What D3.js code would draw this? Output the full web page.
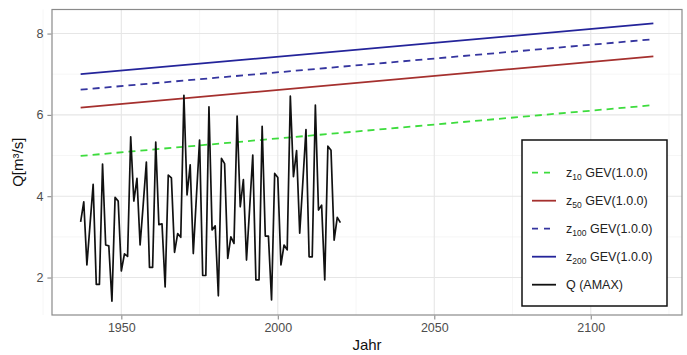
<!DOCTYPE html>
<html>
<head>
<meta charset="utf-8">
<script src="https://cdn.jsdelivr.net/npm/d3@7"></script>
<style>
  body { margin: 0; background: #fff; }
  text { font-family: "Liberation Sans", Arial, sans-serif; }
</style>
</head>
<body>
<div id="chart"></div>
<script>
// annual maxima, 1937 - 2020
var qYears = d3.range(1937, 2021);
var qAmax = [
  3.37, 3.86, 2.31, 3.3, 4.29, 1.83, 1.83, 4.79, 2.8, 2.78,
  1.42, 3.97, 3.88, 2.16, 2.58, 2.52, 5.46, 3.88, 4.44, 2.8,
  3.8, 4.84, 2.25, 2.25, 5.33, 3.3, 3.32, 1.77, 4.52, 4.45,
  2.62, 3.08, 2.99, 6.48, 4.03, 4.77, 2.59, 4.0, 5.38, 2.05,
  2.05, 6.2, 3.17, 3.27, 1.55, 4.93, 4.8, 2.47, 3.0, 2.84,
  5.97, 3.74, 4.41, 2.43, 3.7, 5.01, 1.94, 1.94, 5.72, 3.02,
  3.02, 1.45, 4.56, 4.46, 2.31, 2.8, 2.68, 6.46, 4.48, 5.12,
  3.09, 4.35, 5.64, 2.51, 2.51, 6.24, 3.66, 3.78, 1.94, 5.23,
  5.13, 2.92, 3.48, 3.35
];

// return levels (non-stationary GEV), start and end of period
var zYears = [1937, 2120];
var z10 = [4.99, 6.24];
var z50 = [6.18, 7.44];
var z100 = [6.62, 7.86];
var z200 = [7.0, 8.25];

var xTicks = [1950, 2000, 2050, 2100];
var yTicks = [2, 4, 6, 8];

var width = 687, height = 355;
var panel = { left: 52, right: 682, top: 9.5, bottom: 315 };

var series = [
  { sub: "10", label: " GEV(1.0.0)", values: z10, color: "#3ddc3d", dash: "7,5" },
  { sub: "50", label: " GEV(1.0.0)", values: z50, color: "#a5302e", dash: null },
  { sub: "100", label: " GEV(1.0.0)", values: z100, color: "#35359f", dash: "7,5" },
  { sub: "200", label: " GEV(1.0.0)", values: z200, color: "#24249a", dash: null }
];

var allY = qAmax.concat(z10, z50, z100, z200);
var xExt = [1937, 2120], yExt = d3.extent(allY);
var xPad = (xExt[1] - xExt[0]) * 0.05, yPad = (yExt[1] - yExt[0]) * 0.05;

var xScale = d3.scaleLinear()
  .domain([xExt[0] - xPad, xExt[1] + xPad])
  .range([panel.left, panel.right]);
var yScale = d3.scaleLinear()
  .domain([yExt[0] - yPad, yExt[1] + yPad])
  .range([panel.bottom, panel.top]);

var svg = d3.select("#chart").append("svg")
  .attr("width", width)
  .attr("height", height);

svg.append("rect").attr("width", width).attr("height", height).attr("fill", "#fff");

var innerW = panel.right - panel.left, innerH = panel.bottom - panel.top;

// grid lines, minor then major
var grid = svg.append("g").attr("class", "grid");
var xMinor = [1925, 1975, 2025, 2075, 2125];
var yMinor = [3, 5, 7];

grid.selectAll(".xminor").data(xMinor).enter().append("line")
  .attr("x1", d => xScale(d)).attr("x2", d => xScale(d))
  .attr("y1", panel.top).attr("y2", panel.bottom)
  .attr("stroke", "#f0f0f0").attr("stroke-width", 0.6);
grid.selectAll(".yminor").data(yMinor).enter().append("line")
  .attr("x1", panel.left).attr("x2", panel.right)
  .attr("y1", d => yScale(d)).attr("y2", d => yScale(d))
  .attr("stroke", "#f0f0f0").attr("stroke-width", 0.6);
grid.selectAll(".xmajor").data(xTicks).enter().append("line")
  .attr("x1", d => xScale(d)).attr("x2", d => xScale(d))
  .attr("y1", panel.top).attr("y2", panel.bottom)
  .attr("stroke", "#e6e6e6").attr("stroke-width", 1.1);
grid.selectAll(".ymajor").data(yTicks).enter().append("line")
  .attr("x1", panel.left).attr("x2", panel.right)
  .attr("y1", d => yScale(d)).attr("y2", d => yScale(d))
  .attr("stroke", "#e6e6e6").attr("stroke-width", 1.1);

// return level lines
var line = d3.line().x(d => xScale(d[0])).y(d => yScale(d[1]));

series.forEach(function (s) {
  svg.append("path")
    .datum(zYears.map((yr, i) => [yr, s.values[i]]))
    .attr("fill", "none")
    .attr("stroke", s.color)
    .attr("stroke-width", 1.8)
    .attr("stroke-dasharray", s.dash)
    .attr("d", line);
});

// observed annual maxima
svg.append("path")
  .datum(qYears.map((yr, i) => [yr, qAmax[i]]))
  .attr("fill", "none")
  .attr("stroke", "#111")
  .attr("stroke-width", 1.7)
  .attr("stroke-linejoin", "round")
  .attr("d", line);

// panel border
svg.append("rect")
  .attr("x", panel.left).attr("y", panel.top)
  .attr("width", innerW).attr("height", innerH)
  .attr("fill", "none").attr("stroke", "#8a8a8a").attr("stroke-width", 1.2);

// axes
var xAxis = d3.axisBottom(xScale).tickValues(xTicks).tickSize(4).tickPadding(4).tickFormat(d3.format("d"));
var yAxis = d3.axisLeft(yScale).tickValues(yTicks).tickSize(4).tickPadding(4);

var gX = svg.append("g").attr("transform", "translate(0," + (panel.bottom + 0.6) + ")").call(xAxis);
var gY = svg.append("g").attr("transform", "translate(" + (panel.left - 0.6) + ",0)").call(yAxis);

[gX, gY].forEach(function (g) {
  g.select(".domain").remove();
  g.selectAll(".tick line").attr("stroke", "#8a8a8a").attr("stroke-width", 1.1);
  g.selectAll(".tick text")
    .attr("fill", "#4d4d4d")
    .style("font-size", "12.5px")
    .style("font-family", "'Liberation Sans', Arial, sans-serif");
});

svg.append("text")
  .attr("x", (panel.left + panel.right) / 2)
  .attr("y", 350)
  .attr("text-anchor", "middle")
  .style("font-size", "15px")
  .attr("fill", "#111")
  .text("Jahr");

svg.append("text")
  .attr("transform", "translate(23," + (panel.top + panel.bottom) / 2 + ") rotate(-90)")
  .attr("text-anchor", "middle")
  .style("font-size", "15px")
  .attr("fill", "#111")
  .text("Q[m³/s]");

// legend
var legend = svg.append("g").attr("class", "legend");
legend.append("rect")
  .attr("x", 522).attr("y", 140)
  .attr("width", 145).attr("height", 166)
  .attr("fill", "#fff").attr("stroke", "#111").attr("stroke-width", 1.5);

var legendItems = series.map(s => ({ sub: s.sub, label: s.label, color: s.color, dash: s.dash, z: true }))
  .concat([{ sub: null, label: "Q (AMAX)", color: "#111", dash: null, z: false }]);

var item = legend.selectAll(".legend-item")
  .data(legendItems)
  .enter()
  .append("g")
  .attr("class", "legend-item")
  .attr("transform", (d, i) => "translate(0," + (172.7 + i * 28) + ")");

item.append("line")
  .attr("x1", 532).attr("x2", 556)
  .attr("stroke", d => d.color)
  .attr("stroke-width", 1.8)
  .attr("stroke-dasharray", d => d.dash ? "6,6" : null);

var itemText = item.append("text")
  .attr("x", 566)
  .attr("y", 4.5)
  .style("font-size", "12.5px")
  .attr("fill", "#222");

itemText.filter(d => d.z).append("tspan").text("z");
itemText.filter(d => d.z).append("tspan")
  .attr("dy", 3)
  .style("font-size", "8.5px")
  .text(d => d.sub);
itemText.filter(d => d.z).append("tspan")
  .attr("dy", -3)
  .text(d => d.label);
itemText.filter(d => !d.z).text(d => d.label);
</script>
</body>
</html>
